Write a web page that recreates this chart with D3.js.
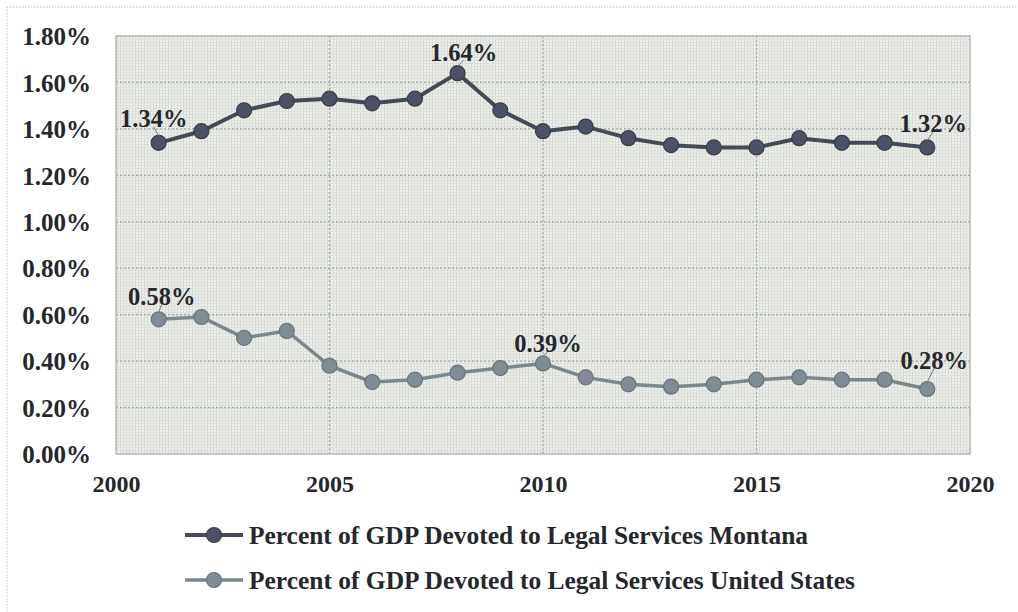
<!DOCTYPE html>
<html>
<head>
<meta charset="utf-8">
<script src="https://cdn.jsdelivr.net/npm/d3@7"></script>
<style>
  html, body { margin: 0; padding: 0; background: #ffffff; }
  svg { display: block; }
  text { font-family: "Liberation Serif", "Times New Roman", serif; font-weight: bold; fill: #25272d; }
</style>
</head>
<body>
<svg id="chart" width="1018" height="612"></svg>
<script>
// ---- data ----
const years = [2001, 2002, 2003, 2004, 2005, 2006, 2007, 2008, 2009, 2010,
               2011, 2012, 2013, 2014, 2015, 2016, 2017, 2018, 2019];
const montana = [1.34, 1.39, 1.48, 1.52, 1.53, 1.51, 1.53, 1.64, 1.48, 1.39,
                 1.41, 1.36, 1.33, 1.32, 1.32, 1.36, 1.34, 1.34, 1.32];
const unitedStates = [0.58, 0.59, 0.50, 0.53, 0.38, 0.31, 0.32, 0.35, 0.37, 0.39,
                      0.33, 0.30, 0.29, 0.30, 0.32, 0.33, 0.32, 0.32, 0.28];
const yTicks = [0, 0.2, 0.4, 0.6, 0.8, 1.0, 1.2, 1.4, 1.6, 1.8];
const xTicks = [2000, 2005, 2010, 2015, 2020];
const seriesNames = ["Percent of GDP Devoted to Legal Services Montana",
                     "Percent of GDP Devoted to Legal Services United States"];
// which points carry a data label
const montanaLabelYears = [2001, 2008, 2019];
const usLabelYears = [2001, 2010, 2019];

// ---- layout ----
const svg = d3.select("#chart");
const plot = { left: 116, right: 970, top: 36, bottom: 454 };
const x = d3.scaleLinear().domain([2000, 2020]).range([plot.left, plot.right]);
const y = d3.scaleLinear().domain([0, 1.8]).range([plot.bottom, plot.top]);

// outer dotted frame
svg.append("line").attr("x1", 7).attr("x2", 1018).attr("y1", 7).attr("y2", 7)
  .attr("stroke", "#b9b9b9").attr("stroke-dasharray", "1.5,1.5");
svg.append("line").attr("x1", 7).attr("x2", 7).attr("y1", 7).attr("y2", 612)
  .attr("stroke", "#c4c4c4").attr("stroke-dasharray", "1.5,1.5");

// plot background texture
const defs = svg.append("defs");
const pat = defs.append("pattern").attr("id", "tex").attr("patternUnits", "userSpaceOnUse")
  .attr("width", 3).attr("height", 3);
pat.append("rect").attr("width", 3).attr("height", 3).attr("fill", "#edefea");
pat.append("rect").attr("width", 1).attr("height", 3).attr("fill", "#d6dad3");
pat.append("rect").attr("width", 3).attr("height", 1).attr("fill", "#dde0da");

svg.append("rect")
  .attr("x", plot.left).attr("y", plot.top)
  .attr("width", plot.right - plot.left).attr("height", plot.bottom - plot.top)
  .attr("fill", "url(#tex)");

// major gridlines
const grid = svg.append("g");
grid.selectAll("line.h").data(yTicks.slice(1)).join("line")
  .attr("x1", plot.left).attr("x2", plot.right)
  .attr("y1", d => y(d)).attr("y2", d => y(d))
  .attr("stroke", "#a3a7a3").attr("stroke-width", 1.2).attr("stroke-dasharray", "2,2");
grid.selectAll("line.v").data(xTicks.slice(1, -1)).join("line")
  .attr("x1", d => x(d)).attr("x2", d => x(d))
  .attr("y1", plot.top).attr("y2", plot.bottom)
  .attr("stroke", "#a3a7a3").attr("stroke-width", 1.2).attr("stroke-dasharray", "2,2");

// plot border
svg.append("rect")
  .attr("x", plot.left).attr("y", plot.top)
  .attr("width", plot.right - plot.left).attr("height", plot.bottom - plot.top)
  .attr("fill", "none").attr("stroke", "#b5b9b5").attr("stroke-width", 1.5);

// axes (labels only)
const yAxis = d3.axisLeft(y).tickValues(yTicks).tickFormat(d => d.toFixed(2) + "%").tickSize(0).tickPadding(0);
const gy = svg.append("g").attr("transform", "translate(91,0)").call(yAxis);
gy.select(".domain").remove();
gy.selectAll("text").attr("font-size", 25).attr("dy", "0.35em")
  .attr("font-family", "Liberation Serif").attr("font-weight", "bold");

const xAxis = d3.axisBottom(x).tickValues(xTicks).tickFormat(d3.format("d")).tickSize(0).tickPadding(0);
const gx = svg.append("g").attr("transform", "translate(0,475)").call(xAxis);
gx.select(".domain").remove();
gx.selectAll("text").attr("font-size", 24).attr("dy", "0.7em")
  .attr("font-family", "Liberation Serif").attr("font-weight", "bold");

// series
const series = [
  { name: seriesNames[0], values: montana, line: "#454b55", fill: "#4c5266", stroke: "#383d4a", width: 4, labels: montanaLabelYears },
  { name: seriesNames[1], values: unitedStates, line: "#7a878d", fill: "#7f8b95", stroke: "#69757c", width: 3.5, labels: usLabelYears }
];

const lineGen = d3.line().x((d, i) => x(years[i])).y(d => y(d));

series.forEach(s => {
  svg.append("path").datum(s.values)
    .attr("d", lineGen).attr("fill", "none")
    .attr("stroke", s.line).attr("stroke-width", s.width).attr("stroke-linejoin", "round");
  svg.append("g").selectAll("circle").data(s.values).join("circle")
    .attr("cx", (d, i) => x(years[i])).attr("cy", d => y(d)).attr("r", 7.5)
    .attr("fill", s.fill).attr("stroke", s.stroke).attr("stroke-width", 1.2);
});

// data labels with leader lines
function labelSeries(s, offsets) {
  s.labels.forEach((yr, k) => {
    const i = years.indexOf(yr);
    const px = x(yr), py = y(s.values[i]);
    const o = offsets[k];
    const lx = px + o[0], ly = py + o[1];
    svg.append("line")
      .attr("x1", lx).attr("y1", ly + 8).attr("x2", px).attr("y2", py - 7)
      .attr("stroke", "#6f7a80").attr("stroke-width", 1);
    svg.append("text").attr("x", lx).attr("y", ly)
      .attr("text-anchor", "middle").attr("dy", "0.35em")
      .attr("font-size", 24.5).text(s.values[i].toFixed(2) + "%");
  });
}
labelSeries(series[0], [[-5, -24], [6, -21], [6, -24]]);
labelSeries(series[1], [[3, -23], [5, -20], [7, -29]]);

// legend
const legend = svg.append("g");
const legendRows = [535, 580];
series.forEach((s, k) => {
  const ly = legendRows[k];
  legend.append("line").attr("x1", 185).attr("x2", 243).attr("y1", ly).attr("y2", ly)
    .attr("stroke", s.line).attr("stroke-width", s.width);
  legend.append("circle").attr("cx", 214).attr("cy", ly).attr("r", 7.5)
    .attr("fill", s.fill).attr("stroke", s.stroke).attr("stroke-width", 1.2);
  legend.append("text").attr("x", 249).attr("y", ly).attr("dy", "0.35em")
    .attr("font-size", 25)
    .attr("textLength", k === 0 ? 559 : 606).attr("lengthAdjust", "spacingAndGlyphs")
    .text(s.name);
});
</script>
</body>
</html>
